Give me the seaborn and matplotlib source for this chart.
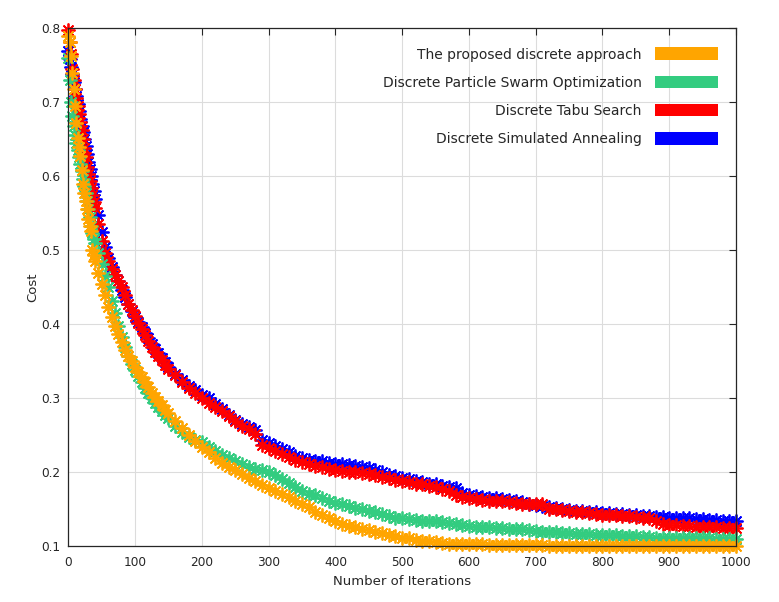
import matplotlib
matplotlib.use('Agg')
import matplotlib.pyplot as plt
import seaborn as sns
from matplotlib.patches import Patch

# iteration grid: dense at the steep start, coarser later
iterations = list(range(0, 41, 2)) + list(range(45, 151, 5)) + list(range(160, 1001, 10))

proposed = [
    0.790, 0.782, 0.762, 0.740, 0.718, 0.695, 0.672, 0.652, 0.640, 0.628, 0.608,
    0.590, 0.578, 0.567, 0.556, 0.543, 0.533, 0.526, 0.500, 0.494, 0.486,
    0.470, 0.455, 0.440, 0.423, 0.410, 0.398, 0.387, 0.376, 0.365, 0.357, 0.350,
    0.343, 0.336, 0.329, 0.322, 0.315, 0.308, 0.302, 0.297, 0.291, 0.285, 0.280,
    0.270, 0.260, 0.251, 0.243, 0.235, 0.228, 0.220, 0.213, 0.208, 0.203,
    0.198, 0.193, 0.188, 0.183, 0.179, 0.175, 0.171, 0.167, 0.162, 0.157,
    0.154, 0.146, 0.142, 0.138, 0.134, 0.131, 0.128, 0.126, 0.124, 0.122,
    0.120, 0.118, 0.116, 0.114, 0.112, 0.111, 0.109, 0.108, 0.107, 0.106,
    0.105, 0.104, 0.104, 0.103, 0.103, 0.103, 0.103, 0.102, 0.102, 0.102,
    0.102, 0.102, 0.102, 0.102, 0.102, 0.102, 0.101, 0.101, 0.101, 0.100,
    0.100, 0.100, 0.100, 0.100, 0.100, 0.100, 0.100, 0.100, 0.100, 0.100,
    0.100, 0.100, 0.100, 0.100, 0.100, 0.100, 0.100, 0.100, 0.100, 0.100,
    0.100, 0.100, 0.100, 0.100, 0.100,
]

pso = [
    0.760, 0.730, 0.700, 0.682, 0.668, 0.656, 0.645, 0.636, 0.626, 0.617, 0.607,
    0.597, 0.587, 0.577, 0.567, 0.556, 0.545, 0.533, 0.524, 0.516, 0.510,
    0.497, 0.482, 0.466, 0.450, 0.432, 0.415, 0.398, 0.383, 0.370, 0.357, 0.346,
    0.338, 0.330, 0.322, 0.314, 0.307, 0.300, 0.294, 0.289, 0.283, 0.278, 0.273,
    0.263, 0.255, 0.248, 0.244, 0.241, 0.235, 0.229, 0.224, 0.220, 0.216,
    0.212, 0.208, 0.205, 0.203, 0.200, 0.196, 0.191, 0.186, 0.180, 0.175,
    0.171, 0.169, 0.166, 0.162, 0.159, 0.157, 0.155, 0.152, 0.150, 0.148,
    0.146, 0.144, 0.141, 0.139, 0.138, 0.137, 0.136, 0.135, 0.134, 0.134,
    0.133, 0.132, 0.131, 0.129, 0.128, 0.127, 0.126, 0.126, 0.125, 0.125,
    0.124, 0.124, 0.123, 0.122, 0.121, 0.120, 0.119, 0.119, 0.118, 0.118,
    0.117, 0.117, 0.117, 0.116, 0.116, 0.115, 0.115, 0.114, 0.114, 0.114,
    0.113, 0.113, 0.112, 0.112, 0.112, 0.112, 0.111, 0.111, 0.111, 0.111,
    0.111, 0.110, 0.110, 0.110, 0.110,
]

tabu = [
    0.798, 0.782, 0.765, 0.745, 0.730, 0.718, 0.706, 0.695, 0.684, 0.673, 0.662,
    0.650, 0.638, 0.626, 0.613, 0.603, 0.594, 0.584, 0.575, 0.565, 0.557,
    0.536, 0.512, 0.497, 0.485, 0.475, 0.467, 0.458, 0.450, 0.440, 0.428, 0.419,
    0.411, 0.402, 0.394, 0.386, 0.377, 0.369, 0.363, 0.358, 0.352, 0.345, 0.340,
    0.331, 0.322, 0.314, 0.307, 0.300, 0.294, 0.289, 0.283, 0.276, 0.269,
    0.263, 0.259, 0.252, 0.237, 0.233, 0.229, 0.225, 0.221, 0.217, 0.214,
    0.212, 0.209, 0.207, 0.205, 0.203, 0.202, 0.201, 0.200, 0.199, 0.198,
    0.196, 0.194, 0.192, 0.190, 0.189, 0.187, 0.185, 0.184, 0.182, 0.180,
    0.178, 0.175, 0.170, 0.167, 0.165, 0.164, 0.163, 0.162, 0.162, 0.161,
    0.160, 0.159, 0.158, 0.158, 0.158, 0.157, 0.151, 0.150, 0.149, 0.148,
    0.147, 0.146, 0.145, 0.144, 0.143, 0.142, 0.142, 0.141, 0.141, 0.140,
    0.139, 0.138, 0.135, 0.131, 0.129, 0.129, 0.128, 0.128, 0.127, 0.127,
    0.126, 0.126, 0.125, 0.125, 0.125,
]

sa = [
    0.770, 0.758, 0.748, 0.738, 0.728, 0.718, 0.708, 0.698, 0.688, 0.678, 0.668,
    0.660, 0.651, 0.641, 0.630, 0.620, 0.610, 0.600, 0.590, 0.580, 0.570,
    0.548, 0.525, 0.505, 0.490, 0.478, 0.467, 0.458, 0.447, 0.437, 0.427, 0.418,
    0.410, 0.403, 0.396, 0.389, 0.381, 0.374, 0.367, 0.361, 0.355, 0.349, 0.343,
    0.333, 0.325, 0.317, 0.311, 0.305, 0.300, 0.293, 0.286, 0.278, 0.271,
    0.265, 0.261, 0.257, 0.244, 0.240, 0.236, 0.232, 0.227, 0.222, 0.219,
    0.217, 0.216, 0.215, 0.213, 0.212, 0.211, 0.210, 0.209, 0.208, 0.206,
    0.204, 0.200, 0.197, 0.195, 0.193, 0.191, 0.189, 0.187, 0.185, 0.184,
    0.182, 0.181, 0.179, 0.172, 0.169, 0.168, 0.167, 0.166, 0.165, 0.164,
    0.163, 0.162, 0.160, 0.158, 0.156, 0.155, 0.153, 0.152, 0.150, 0.149,
    0.148, 0.148, 0.147, 0.146, 0.145, 0.145, 0.144, 0.144, 0.143, 0.142,
    0.141, 0.141, 0.140, 0.140, 0.139, 0.139, 0.138, 0.138, 0.137, 0.137,
    0.136, 0.136, 0.135, 0.135, 0.135,
]

labels = ['The proposed discrete approach', 'Discrete Particle Swarm Optimization',
          'Discrete Tabu Search', 'Discrete Simulated Annealing']
colors = ['#ffa500', '#33cc80', '#ff0000', '#0000ff']
series = [proposed, pso, tabu, sa]

sns.set_theme(style='white')
plt.rcParams['font.family'] = ['DejaVu Sans']
text_col = '#262626'

fig, ax = plt.subplots(figsize=(7.79, 6.02), dpi=100)
fig.subplots_adjust(left=0.0877, right=0.9448, bottom=0.0922, top=0.953)

star = (8, 2, 0)
# draw back to front: SA, Tabu, PSO, proposed
for vals, col in list(zip(series, colors))[::-1]:
    sns.lineplot(x=iterations, y=vals, ax=ax, estimator=None, color=col,
                 marker=star, markersize=10, markeredgewidth=1.3,
                 markeredgecolor=col, linewidth=0, clip_on=False)

ax.set_xlim(0, 1000)
ax.set_ylim(0.1, 0.8)
ax.set_xticks(range(0, 1001, 100))
yt = [0.1, 0.2, 0.3, 0.4, 0.5, 0.6, 0.7, 0.8]
ax.set_yticks(yt)
ax.set_yticklabels([f'{v:.1f}' for v in yt])
ax.set_axisbelow(True)
ax.grid(True, color='#dcdcdc', linewidth=0.8)
ax.tick_params(direction='in', length=5, width=0.8, top=True, right=True,
               labelsize=8.7, labelcolor=text_col, color=text_col)
ax.tick_params(axis='x', pad=7)
ax.tick_params(axis='y', pad=6)
for s in ax.spines.values():
    s.set_visible(True)
    s.set_color(text_col)
    s.set_linewidth(0.9)

ax.set_xlabel('Number of Iterations', fontsize=9.5, color=text_col, labelpad=4.5)
ax.set_ylabel('Cost', fontsize=9.5, color=text_col, labelpad=1)

handles = [Patch(facecolor=c, edgecolor='none') for c in colors]
ax.legend(handles, labels, loc='upper right', bbox_to_anchor=(0.973, 0.963),
          frameon=False, markerfirst=False, handlelength=4.55, handleheight=1.05,
          labelspacing=1.0, handletextpad=0.95, borderpad=0, borderaxespad=0,
          fontsize=10, labelcolor=text_col)

fig.savefig('out.png', dpi=100)
